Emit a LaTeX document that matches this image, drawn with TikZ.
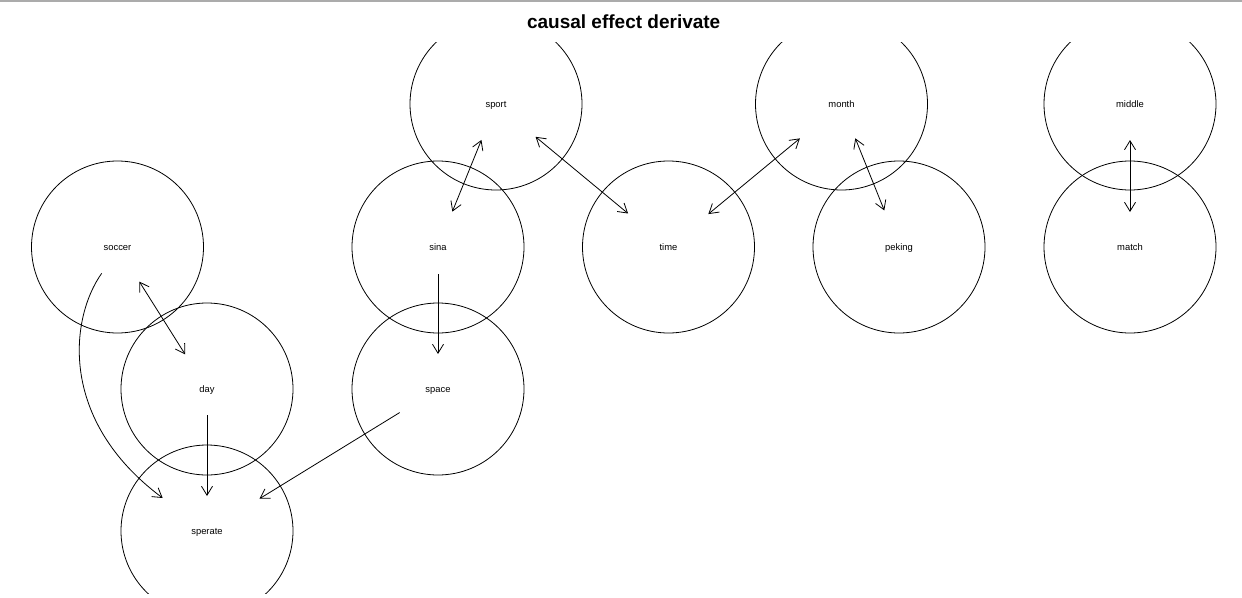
\documentclass[tikz,border=0pt]{standalone}
\usepackage{fontspec}
\setmainfont{Liberation Sans}
\usetikzlibrary{arrows.meta}
\begin{document}
\begin{tikzpicture}[x=1pt,y=-1pt,
  vert/.style={circle,draw,line width=0.8pt,minimum size=172pt,inner sep=0pt,
    text height=6.4pt,text depth=0pt,
    font=\fontsize{9.4}{11}\selectfont},
  edge/.style={line width=0.8pt},
  tipo/.tip={Straight Barb[length=9pt,width=11pt,line width=0.8pt]}]
\useasboundingbox (0,0) rectangle (1242,597);
\draw[line width=1.5pt,black!33] (0,0.75) -- (1242,0.75);
\node[font=\bfseries\fontsize{19}{22}\selectfont,anchor=base,inner sep=0pt] (title) at (623.7,28) {causal effect derivate};
\begin{scope}
\clip (0,42) rectangle (1242,593);
\node[vert] (sport)   at (496,104)   {sport};
\node[vert] (month)   at (841.5,104) {month};
\node[vert] (middle)  at (1130,104)  {middle};
\node[vert] (soccer)  at (117.5,247) {soccer};
\node[vert] (sina)    at (438,247)   {sina};
\node[vert] (time)    at (668.5,247) {time};
\node[vert] (peking)  at (899,247)   {peking};
\node[vert] (match)   at (1130,247)  {match};
\node[vert] (day)     at (207,389)   {day};
\node[vert] (space)   at (438,389)   {space};
\node[vert] (sperate) at (207,531)   {sperate};
\end{scope}
% edges
\draw[edge,{tipo}-{tipo},shorten <=40.8pt,shorten >=40.9pt] (soccer.center) -- (day.center);
\draw[edge,{tipo}-{tipo},shorten <=38.8pt,shorten >=38.2pt] (sport.center) -- (sina.center);
\draw[edge,{tipo}-{tipo},shorten <=51.4pt,shorten >=52.5pt] (sport.center) -- (time.center);
\draw[edge,{tipo}-{tipo},shorten <=54pt,shorten >=51.7pt] (month.center) -- (time.center);
\draw[edge,{tipo}-{tipo},shorten <=37pt,shorten >=39.4pt] (month.center) -- (peking.center);
\draw[edge,{tipo}-{tipo},shorten <=36pt,shorten >=35pt] (middle.center) -- (match.center);
\draw[edge,-{tipo},shorten <=27pt,shorten >=35pt] (sina.center) -- (space.center);
\draw[edge,-{tipo},shorten <=26pt,shorten >=35pt] (day.center) -- (sperate.center);
\draw[edge,-{tipo},shorten <=45pt,shorten >=61.6pt] (space.center) -- (sperate.center);
\draw[edge,-{tipo}] ([shift={(-15.8,26.3)}]soccer.center) .. controls (70,318) and (58,420) .. ([shift={(-44.3,-33)}]sperate.center);
\end{tikzpicture}
\end{document}
